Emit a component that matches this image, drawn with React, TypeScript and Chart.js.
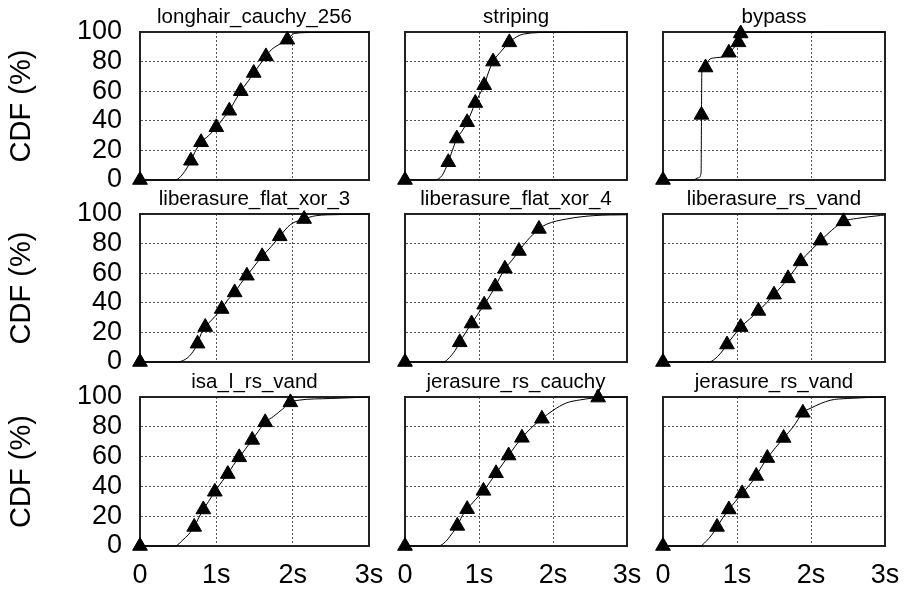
import React, { useEffect, useRef } from 'react';
import { Chart, registerables } from 'chart.js';

Chart.register(...registerables);

// ---- data ----
const panelTitles = [
  'longhair_cauchy_256',
  'striping',
  'bypass',
  'liberasure_flat_xor_3',
  'liberasure_flat_xor_4',
  'liberasure_rs_vand',
  'isa_l_rs_vand',
  'jerasure_rs_cauchy',
  'jerasure_rs_vand',
];
const xTickLabels = ['0', '1s', '2s', '3s'];
const yTickLabels = ['0', '20', '40', '60', '80', '100'];
const yAxisTitle = 'CDF (%)';

// [seconds, CDF %]
const longhairCurve = [[0,0],[0.46,0],[0.56,4],[0.667,13],[0.73,20],[0.8,25.5],[0.9,30],[1.0,35.6],[1.08,41],[1.17,46.8],[1.25,54],[1.32,60],[1.42,67],[1.49,72.3],[1.57,78],[1.65,83.5],[1.72,88],[1.82,91.5],[1.93,94.8],[2.02,99],[2.3,99.7],[3,100]];
const longhairMarks = [[0,0],[0.667,13],[0.8,25.5],[1.0,35.6],[1.17,46.8],[1.32,60],[1.49,72.3],[1.65,83.5],[1.93,94.8]];

const stripingCurve = [[0,0],[0.4,0],[0.5,3],[0.585,12],[0.64,20],[0.7,28],[0.77,33],[0.84,39],[0.9,46],[0.95,52],[1.01,58],[1.07,64],[1.13,73],[1.19,80],[1.3,87],[1.41,93],[1.51,96.8],[1.6,98.6],[2.0,99.8],[3,100]];
const stripingMarks = [[0,0],[0.585,12],[0.7,28],[0.84,39],[0.95,52],[1.07,64],[1.19,80],[1.41,93]];

const bypassCurve = [[0,0],[0.41,0],[0.48,1.5],[0.515,5],[0.52,44],[0.525,74],[0.575,76],[0.62,81],[0.68,82.4],[0.86,84],[0.89,86],[0.93,87.6],[0.98,90.8],[1.02,93],[1.05,99],[1.13,99.8],[3,100]];
const bypassMarks = [[0,0],[0.52,44],[0.575,76],[0.89,86],[1.02,93],[1.05,99]];

const flatXor3Curve = [[0,0],[0.48,0],[0.6,2],[0.68,6],[0.754,12.4],[0.8,19],[0.855,23.6],[0.95,29],[1.07,35.8],[1.15,42],[1.24,47],[1.32,53],[1.4,58.3],[1.5,65],[1.6,71.4],[1.72,78],[1.83,84.9],[1.97,92.8],[2.15,96.6],[2.3,98.8],[2.6,99.6],[3,100]];
const flatXor3Marks = [[0,0],[0.754,12.4],[0.855,23.6],[1.07,35.8],[1.24,47],[1.4,58.3],[1.6,71.4],[1.83,84.9],[2.15,96.6]];

const flatXor4Curve = [[0,0],[0.52,0],[0.6,3],[0.68,8],[0.74,13.3],[0.82,20],[0.9,26],[0.98,32],[1.07,38.7],[1.15,45],[1.22,51],[1.28,57],[1.35,63],[1.45,69],[1.54,75],[1.65,82],[1.81,89.9],[1.91,93],[2.18,96.6],[2.55,98.9],[3,99.5]];
const flatXor4Marks = [[0,0],[0.74,13.3],[0.9,26],[1.07,38.7],[1.22,51],[1.35,63],[1.54,75],[1.81,89.9]];

const rsVandCurve = [[0,0],[0.62,0],[0.7,2],[0.78,6],[0.865,11.8],[0.95,17.5],[1.05,23.6],[1.17,29],[1.29,34.5],[1.4,40],[1.5,45.5],[1.6,51],[1.69,56.5],[1.78,62.5],[1.86,68],[2.0,75.5],[2.13,82],[2.28,89],[2.44,95],[2.62,97],[2.94,99],[3,99.3]];
const rsVandMarks = [[0,0],[0.865,11.8],[1.05,23.6],[1.29,34.5],[1.5,45.5],[1.69,56.5],[1.86,68],[2.13,82],[2.44,95]];

const isalCurve = [[0,0],[0.46,0],[0.56,4],[0.64,8],[0.71,12.8],[0.77,19],[0.83,24.5],[0.9,30],[0.98,36.4],[1.07,43],[1.15,48.3],[1.22,54],[1.3,59.5],[1.38,65],[1.47,71.2],[1.55,77],[1.64,83],[1.75,87],[1.87,92],[1.97,96.4],[2.07,97.8],[2.5,99],[3,100]];
const isalMarks = [[0,0],[0.71,12.8],[0.83,24.5],[0.98,36.4],[1.15,48.3],[1.3,59.5],[1.47,71.2],[1.64,83],[1.97,96.4]];

const jerCauchyCurve = [[0,0],[0.45,0],[0.55,3],[0.63,8],[0.707,13.5],[0.77,20],[0.84,24.7],[0.95,31],[1.06,37],[1.15,43],[1.23,48.8],[1.32,55],[1.4,60.7],[1.49,67],[1.58,72.6],[1.7,79],[1.85,85.4],[2.0,91],[2.18,96],[2.36,98],[2.61,99.6],[3,100]];
const jerCauchyMarks = [[0,0],[0.707,13.5],[0.84,24.7],[1.06,37],[1.23,48.8],[1.4,60.7],[1.58,72.6],[1.85,85.4],[2.61,99.6]];

const jerVandCurve = [[0,0],[0.5,0],[0.58,3],[0.66,7.5],[0.73,12.8],[0.81,19],[0.89,24.5],[0.98,30],[1.07,35.3],[1.17,41],[1.26,47],[1.33,53],[1.41,59],[1.52,66],[1.63,72.5],[1.76,80],[1.89,89.4],[2.0,92.6],[2.26,97.8],[2.49,99],[3,100]];
const jerVandMarks = [[0,0],[0.73,12.8],[0.89,24.5],[1.07,35.3],[1.26,47],[1.41,59],[1.63,72.5],[1.89,89.4]];

const curves = [longhairCurve, stripingCurve, bypassCurve, flatXor3Curve, flatXor4Curve, rsVandCurve, isalCurve, jerCauchyCurve, jerVandCurve];
const marks = [longhairMarks, stripingMarks, bypassMarks, flatXor3Marks, flatXor4Marks, rsVandMarks, isalMarks, jerCauchyMarks, jerVandMarks];

// ---- layout ----
const W = 921;
const H = 590;
const colLeft = [140, 405, 663];
const colRight = [369, 627, 885];
const rowTop = [32, 214, 397];
const rowBottom = [180, 362, 546];
const FONT = "'Liberation Sans', Arial, Helvetica, sans-serif";

const gridColor = (ends: number[]) => (ctx: any) =>
  ctx.tick && ends.includes(ctx.tick.value) ? 'rgba(0,0,0,0)' : '#555';

function Panel({ index }: { index: number }) {
  const ref = useRef<HTMLCanvasElement | null>(null);
  useEffect(() => {
    const row = Math.floor(index / 3);
    const col = index % 3;
    const isLeft = col === 0;
    const isBottom = row === 2;
    const yW = isLeft ? 140 : 0;
    const topH = 30;
    const botH = isBottom ? 44 : 0;
    const chart = new Chart(ref.current as HTMLCanvasElement, {
      type: 'line',
      data: {
        datasets: [
          {
            data: curves[index].map(([x, y]) => ({ x, y })),
            borderColor: '#000',
            borderWidth: 1,
            pointRadius: 0,
            cubicInterpolationMode: 'monotone',
            fill: false,
            clip: false,
            xAxisID: 'x',
            yAxisID: 'y',
          } as any,
          {
            data: marks[index].map(([x, y]) => ({ x, y })),
            showLine: false,
            pointStyle: 'triangle',
            pointRadius: 8.5,
            pointBackgroundColor: '#000',
            pointBorderColor: '#000',
            pointBorderWidth: 1,
            clip: false,
            xAxisID: 'x',
            yAxisID: 'y',
          } as any,
        ],
      },
      options: {
        responsive: false,
        animation: false,
        devicePixelRatio: 1,
        events: [],
        layout: {
          padding: {
            left: colLeft[col] - yW,
            right: W - colRight[col],
            top: rowTop[row] - topH,
            bottom: H - rowBottom[row] - botH,
          },
        },
        plugins: {
          legend: { display: false },
          tooltip: { enabled: false },
          title: { display: false },
        },
        scales: {
          x: {
            type: 'linear',
            position: 'bottom',
            min: 0,
            max: 3,
            afterFit: (s: any) => { s.height = botH; },
            ticks: {
              display: isBottom,
              autoSkip: false,
              stepSize: 1,
              padding: 16,
              color: '#000',
              maxRotation: 0,
              font: { family: FONT, size: 27, lineHeight: 1 },
              callback: (_v: any, i: number) => xTickLabels[i],
            },
            grid: { color: gridColor([0, 3]), lineWidth: 1, drawTicks: false },
            border: { display: true, color: '#222', width: 2, dash: [2, 2] },
          },
          y: {
            type: 'linear',
            position: 'left',
            min: 0,
            max: 100,
            afterFit: (s: any) => { s.width = yW; },
            ticks: {
              display: isLeft,
              autoSkip: false,
              stepSize: 20,
              padding: 18,
              color: '#000',
              font: { family: FONT, size: 27, lineHeight: 1 },
              callback: (_v: any, i: number) => yTickLabels[i],
            },
            title: {
              display: isLeft,
              text: yAxisTitle,
              color: '#000',
              font: { family: FONT, size: 29, lineHeight: 1 },
              padding: { top: 7.5, bottom: 0 },
            },
            grid: { color: gridColor([0, 100]), lineWidth: 1, drawTicks: false },
            border: { display: true, color: '#222', width: 2, dash: [2, 2] },
          },
          x2: {
            type: 'linear',
            position: 'top',
            min: 0,
            max: 3,
            afterFit: (s: any) => { s.height = topH; },
            ticks: { display: false },
            grid: { display: true, color: 'rgba(0,0,0,0)', drawTicks: false },
            border: { display: true, color: '#222', width: 2 },
            title: {
              display: true,
              text: panelTitles[index],
              color: '#000',
              font: { family: FONT, size: 20.5, lineHeight: 1 },
              padding: { top: 5, bottom: 0 },
            },
          },
          y2: {
            type: 'linear',
            position: 'right',
            min: 0,
            max: 100,
            afterFit: (s: any) => { s.width = 0; },
            ticks: { display: false },
            grid: { display: true, color: 'rgba(0,0,0,0)', drawTicks: false },
            border: { display: true, color: '#222', width: 2 },
          },
        },
      } as any,
    });
    return () => chart.destroy();
  }, [index]);
  return (
    <canvas
      ref={ref}
      width={W}
      height={H}
      style={{ position: 'absolute', left: 0, top: 0 }}
    />
  );
}

export default function App() {
  return (
    <div style={{ position: 'absolute', left: 0, top: 0, width: W, height: H, background: '#fff' }}>
      {panelTitles.map((_, i) => (
        <Panel key={i} index={i} />
      ))}
    </div>
  );
}
